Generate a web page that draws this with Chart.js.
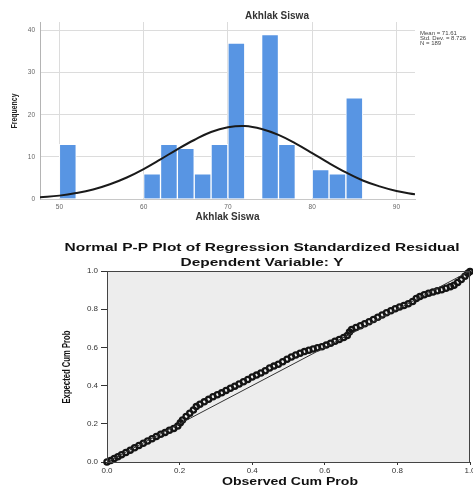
<!DOCTYPE html>
<html>
<head>
<meta charset="utf-8">
<script src="https://cdn.jsdelivr.net/npm/chart.js@4.4.1/dist/chart.umd.min.js"></script>
<style>
html, body { margin:0; padding:0; background:#fff; overflow:hidden; width:473px; height:487px }
#hist { position:absolute; left:0; top:0 }
#pp { position:absolute; left:0; top:230px }
</style>
</head>
<body>
<canvas id="hist" width="473" height="225"></canvas>
<canvas id="pp" width="520" height="257"></canvas>
<script>
// histogram: bin midpoints (width 2) and counts
const binMid = [51, 61, 63, 65, 67, 69, 71, 73, 75, 77, 79, 81, 83, 85]
const binCount = [13, 6, 13, 12, 6, 13, 37, 0, 39, 13, 0, 7, 6, 24]
const histTicks = [50, 60, 70, 80, 90]
const freqTicks = [0, 10, 20, 30, 40]
// normal curve
const curveX = [47.7, 50, 52, 54, 56, 58, 60, 62, 64, 66, 68, 70, 72, 74, 76, 78, 80, 82, 84, 86, 88, 90, 92.2]
const curveY = [0.4, 0.8, 1.4, 2.25, 3.5, 5.1, 7.1, 9.4, 11.8, 14.0, 15.9, 17.0, 17.3, 16.6, 15.2, 13.2, 10.9, 8.5, 6.3, 4.4, 3.0, 1.9, 1.1]
const statLines = ['Mean = 71.61', 'Std. Dev. = 8.726', 'N = 189']

// P-P plot
const obsProb = [0, 0.010, 0.020, 0.030, 0.040, 0.052, 0.064, 0.076, 0.088, 0.100, 0.112, 0.124, 0.136, 0.148, 0.160, 0.172, 0.184, 0.195,
  0.202, 0.208, 0.218, 0.228, 0.238, 0.246, 0.256, 0.268, 0.280, 0.292, 0.304, 0.316, 0.328, 0.340, 0.352, 0.364, 0.376, 0.388,
  0.400, 0.412, 0.424, 0.436, 0.448, 0.460, 0.472, 0.484, 0.496, 0.508, 0.520, 0.532, 0.544, 0.556, 0.568, 0.580, 0.592, 0.604,
  0.616, 0.628, 0.640, 0.652, 0.662, 0.668, 0.674, 0.686, 0.698, 0.710, 0.722, 0.734, 0.746, 0.758, 0.770, 0.782, 0.794, 0.806,
  0.818, 0.830, 0.842, 0.852, 0.862, 0.874, 0.886, 0.898, 0.910, 0.922, 0.934, 0.946, 0.956, 0.966, 0.976, 0.986, 0.994, 1.000]
const expProb = [0, 0.008, 0.018, 0.028, 0.038, 0.050, 0.062, 0.074, 0.087, 0.098, 0.110, 0.122, 0.134, 0.145, 0.155, 0.166, 0.176, 0.188,
  0.205, 0.220, 0.238, 0.255, 0.272, 0.290, 0.302, 0.315, 0.328, 0.342, 0.352, 0.362, 0.375, 0.386, 0.397, 0.408, 0.420, 0.432,
  0.445, 0.455, 0.466, 0.478, 0.492, 0.502, 0.512, 0.525, 0.538, 0.550, 0.560, 0.570, 0.578, 0.585, 0.592, 0.598, 0.604, 0.612,
  0.622, 0.632, 0.642, 0.652, 0.662, 0.680, 0.694, 0.704, 0.714, 0.724, 0.734, 0.746, 0.758, 0.770, 0.782, 0.792, 0.802, 0.812,
  0.820, 0.828, 0.840, 0.856, 0.866, 0.876, 0.884, 0.890, 0.896, 0.902, 0.910, 0.918, 0.926, 0.940, 0.955, 0.972, 0.988, 0.998]
const refLine = [0, 1]
const probTicks = [0, 0.2, 0.4, 0.6, 0.8, 1]

// draws free text, scaled along its baseline to a given width when asked
const textPlugin = {
    id: 'labels',
    afterDraw(chart, args, opts) {
        const ctx = chart.ctx
        opts.items.forEach(t => {
            ctx.save()
            ctx.font = t.font
            ctx.fillStyle = t.color
            ctx.textAlign = t.align || 'center'
            ctx.textBaseline = 'middle'
            ctx.translate(t.x, t.y)
            if (t.rotate) ctx.rotate(-Math.PI / 2)
            if (t.width) ctx.scale(t.width / ctx.measureText(t.text).width, 1)
            ctx.fillText(t.text, 0, 0)
            ctx.restore()
        })
    }
}

const plotFrame = {
    id: 'frame',
    beforeDatasetsDraw(chart) {
        const a = chart.chartArea, ctx = chart.ctx
        ctx.save()
        ctx.fillStyle = '#ededed'
        ctx.fillRect(a.left, a.top, a.right - a.left, a.bottom - a.top)
        ctx.restore()
    },
    afterDatasetsDraw(chart) {
        const a = chart.chartArea, ctx = chart.ctx
        ctx.save()
        ctx.strokeStyle = '#444'
        ctx.lineWidth = 1
        ctx.strokeRect(a.left + 0.5, a.top + 0.5, a.right - a.left - 1, a.bottom - a.top)
        ctx.restore()
    }
}

const sans = '"Liberation Sans", Arial, sans-serif'

new Chart(document.getElementById('hist').getContext('2d'), {
    type: 'bar',
    data: {
        datasets: [{
            type: 'line',
            data: curveX.map((x, i) => ({x: x, y: curveY[i]})),
            borderColor: '#1a1a1a',
            borderWidth: 2,
            pointRadius: 0,
            tension: 0.4,
            order: 0
        }, {
            data: binMid.map((x, i) => ({x: x, y: binCount[i]})),
            backgroundColor: '#5895e3',
            borderColor: '#ffffff',
            borderWidth: 1,
            barPercentage: 1,
            categoryPercentage: 1,
            order: 1
        }]
    },
    options: {
        responsive: false,
        animation: false,
        layout: {padding: {top: 22, right: 58, left: 0, bottom: 0}},
        plugins: {
            legend: {display: false},
            tooltip: {enabled: false},
            labels: {items: [
                {text: 'Akhlak Siswa', x: 277, y: 16, font: 'bold 10px ' + sans, color: '#333'},
                {text: 'Frequency', x: 15, y: 111, font: 'bold 9px ' + sans, color: '#222', rotate: true, width: 35},
                {text: statLines[0], x: 420, y: 33, font: '6px ' + sans, color: '#444', align: 'left'},
                {text: statLines[1], x: 420, y: 38, font: '6px ' + sans, color: '#444', align: 'left'},
                {text: statLines[2], x: 420, y: 43, font: '6px ' + sans, color: '#444', align: 'left'}
            ]}
        },
        scales: {
            x: {
                type: 'linear', min: 47.7, max: 92.2, offset: false,
                afterBuildTicks: s => { s.ticks = histTicks.map(v => ({value: v})) },
                afterFit: s => { s.height = 26 },
                grid: {color: '#dcdcdc', drawTicks: false, offset: false},
                border: {color: '#c8c8c8'},
                ticks: {color: '#666', font: {family: sans, size: 6.5}, padding: 4, maxRotation: 0},
                title: {display: true, text: 'Akhlak Siswa', color: '#333', font: {family: sans, size: 10, weight: 'bold'}, padding: {top: 0, bottom: 2}}
            },
            y: {
                min: 0, max: 42,
                afterBuildTicks: s => { s.ticks = freqTicks.map(v => ({value: v})) },
                afterFit: s => { s.width = 40 },
                grid: {color: '#dcdcdc', drawTicks: false},
                border: {color: '#b4b4b4'},
                ticks: {color: '#666', font: {family: sans, size: 6.5}, padding: 5}
            }
        }
    },
    plugins: [textPlugin]
})

new Chart(document.getElementById('pp').getContext('2d'), {
    type: 'scatter',
    data: {
        datasets: [{
            type: 'line',
            data: refLine.map(v => ({x: v, y: v})),
            borderColor: '#333',
            borderWidth: 1,
            pointRadius: 0
        }, {
            data: obsProb.map((x, i) => ({x: x, y: expProb[i]})),
            pointStyle: 'circle',
            pointRadius: 2.6,
            borderWidth: 2.3,
            borderColor: '#141414',
            backgroundColor: 'rgba(0,0,0,0)',
            clip: false
        }]
    },
    options: {
        responsive: false,
        animation: false,
        layout: {padding: {top: 41, right: 50, left: 0, bottom: 0}},
        plugins: {
            legend: {display: false},
            tooltip: {enabled: false},
            labels: {items: [
                {text: 'Normal P-P Plot of Regression Standardized Residual', x: 262, y: 18, font: 'bold 11px ' + sans, color: '#111', width: 395},
                {text: 'Dependent Variable: Y', x: 262, y: 33, font: 'bold 11px ' + sans, color: '#111', width: 163},
                {text: 'Observed Cum Prob', x: 290, y: 251.5, font: 'bold 11px ' + sans, color: '#111', width: 136},
                {text: 'Expected Cum Prob', x: 67, y: 137, font: 'bold 10px ' + sans, color: '#111', rotate: true, width: 73}
            ]}
        },
        scales: {
            x: {
                type: 'linear', min: 0, max: 1,
                afterBuildTicks: s => { s.ticks = probTicks.map(v => ({value: v})) },
                afterFit: s => { s.height = 25 },
                grid: {drawOnChartArea: false, tickLength: 3, color: '#333'},
                border: {color: '#333'},
                ticks: {color: '#333', font: {family: sans, size: 8}, padding: 1, maxRotation: 0, autoSkip: false, callback: v => v.toFixed(1)}
            },
            y: {
                min: 0, max: 1,
                afterBuildTicks: s => { s.ticks = probTicks.map(v => ({value: v})) },
                afterFit: s => { s.width = 107 },
                grid: {drawOnChartArea: false, tickLength: 6, color: '#333'},
                border: {color: '#333'},
                ticks: {color: '#333', font: {family: sans, size: 8}, padding: 3, callback: v => v.toFixed(1)}
            }
        }
    },
    plugins: [plotFrame, textPlugin]
})
</script>
</body>
</html>
